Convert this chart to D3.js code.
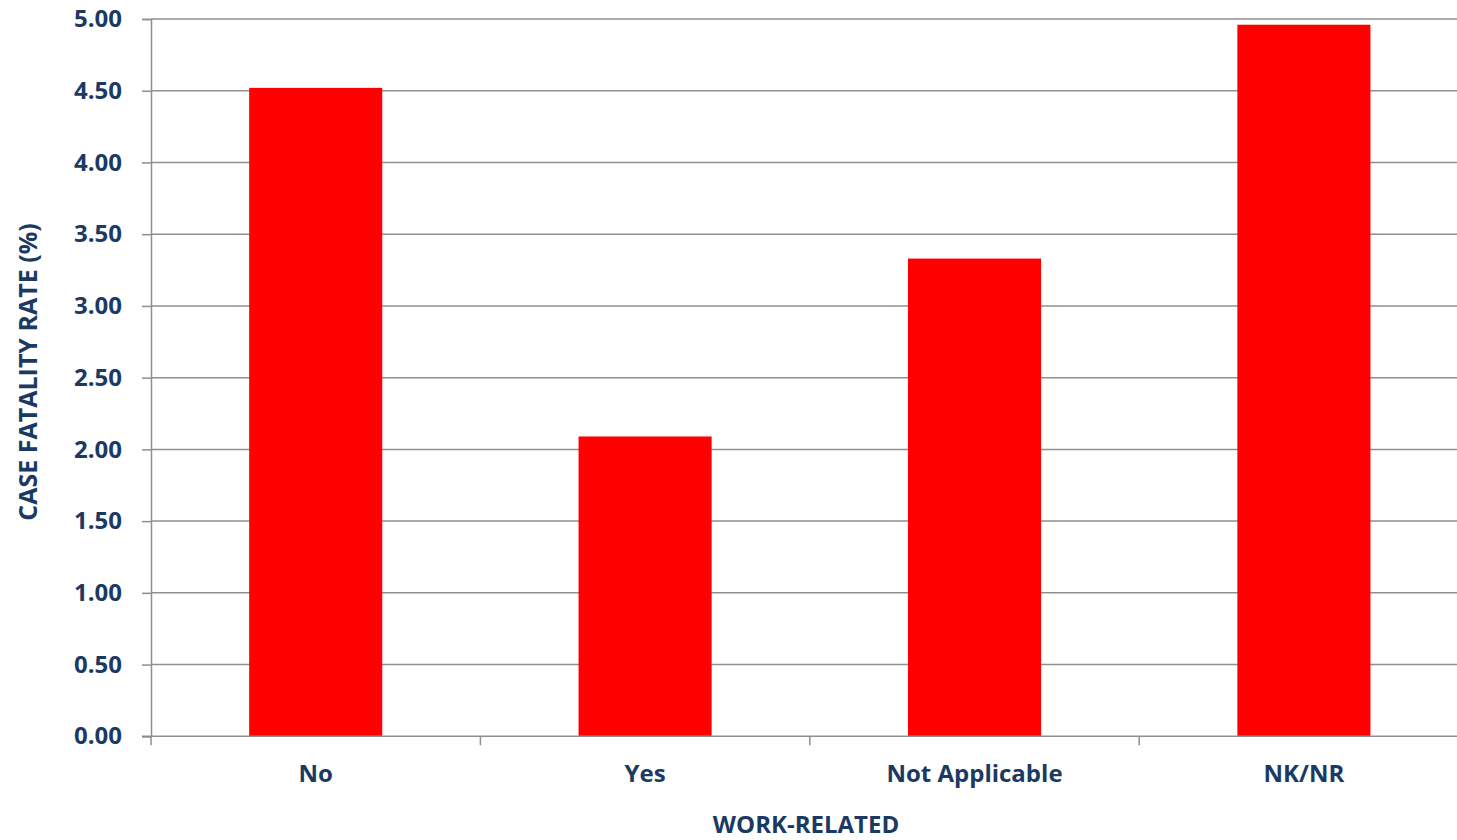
<!DOCTYPE html>
<html>
<head>
<meta charset="utf-8">
<script src="https://cdn.jsdelivr.net/npm/d3@7"></script>
<style>
  html, body { margin: 0; padding: 0; background: #ffffff; }
  svg { display: block; }
  text { font-family: "Open Sans", Lato, sans-serif; font-weight: 700; fill: #1b3a63; }
</style>
</head>
<body>
<svg id="chart" width="1457" height="840"></svg>
<script>
// Case fatality rate by work-related status
const categories = ["No", "Yes", "Not Applicable", "NK/NR"];
const rates = [4.52, 2.09, 3.33, 4.96];
const yTicks = [0, 0.5, 1, 1.5, 2, 2.5, 3, 3.5, 4, 4.5, 5];
const xTitle = "WORK-RELATED";
const yTitle = "CASE FATALITY RATE (%)";

const svg = d3.select("#chart");
const plotLeft = 151, plotRight = 1468.6, plotTop = 19, plotBottom = 736.3;
const gridColor = "#8f8f8f";
const fontSize = 24;

const x = d3.scaleBand().domain(categories).range([plotLeft, plotRight]).paddingInner(0.596).paddingOuter(0.298);
const y = d3.scaleLinear().domain([0, 5]).range([plotBottom, plotTop]);

// horizontal gridlines
svg.append("g")
  .selectAll("line")
  .data(yTicks.filter(d => d > 0))
  .join("line")
  .attr("x1", plotLeft).attr("x2", 1457)
  .attr("y1", d => y(d)).attr("y2", d => y(d))
  .attr("stroke", gridColor).attr("stroke-width", 1.5);

// bars
svg.append("g")
  .selectAll("rect")
  .data(categories.map((c, i) => ({ c, v: rates[i] })))
  .join("rect")
  .attr("x", d => x(d.c))
  .attr("width", x.bandwidth())
  .attr("y", d => y(d.v))
  .attr("height", d => y(0) - y(d.v))
  .attr("fill", "#ff0000");

// y axis
const yAxis = svg.append("g")
  .attr("transform", `translate(${plotLeft},0)`)
  .call(d3.axisLeft(y).tickValues(yTicks).tickFormat(d3.format(".2f")).tickSize(9).tickPadding(20));
yAxis.select(".domain").attr("stroke", gridColor).attr("stroke-width", 1.5);
yAxis.selectAll(".tick line").attr("stroke", gridColor).attr("stroke-width", 1.5);
yAxis.selectAll(".tick text").attr("font-size", fontSize).style("fill", "#1b3a63")
  .style("font-family", "'Open Sans', Lato, sans-serif").style("font-weight", 700);

// x axis with boundary ticks between categories
const xAxisG = svg.append("g").attr("transform", `translate(0,${plotBottom})`);
xAxisG.append("line")
  .attr("x1", plotLeft - 9).attr("x2", 1457)
  .attr("y1", 0).attr("y2", 0)
  .attr("stroke", gridColor).attr("stroke-width", 1.5);
xAxisG.selectAll("line.b")
  .data(categories)
  .join("line")
  .attr("class", "b")
  .attr("x1", d => x(d) - x.step() * x.paddingInner() / 2)
  .attr("x2", d => x(d) - x.step() * x.paddingInner() / 2)
  .attr("y1", 0).attr("y2", 9)
  .attr("stroke", gridColor).attr("stroke-width", 1.5);
xAxisG.selectAll("text")
  .data(categories)
  .join("text")
  .attr("x", d => x(d) + x.bandwidth() / 2)
  .attr("y", 46)
  .attr("text-anchor", "middle")
  .attr("font-size", fontSize)
  .text(d => d);

// axis titles
svg.append("text")
  .attr("x", 806).attr("y", 833)
  .attr("text-anchor", "middle")
  .attr("font-size", fontSize)
  .text(xTitle);

svg.append("text")
  .attr("transform", "translate(37,372) rotate(-90)")
  .attr("text-anchor", "middle")
  .attr("font-size", fontSize + 1)
  .text(yTitle);
</script>
</body>
</html>
